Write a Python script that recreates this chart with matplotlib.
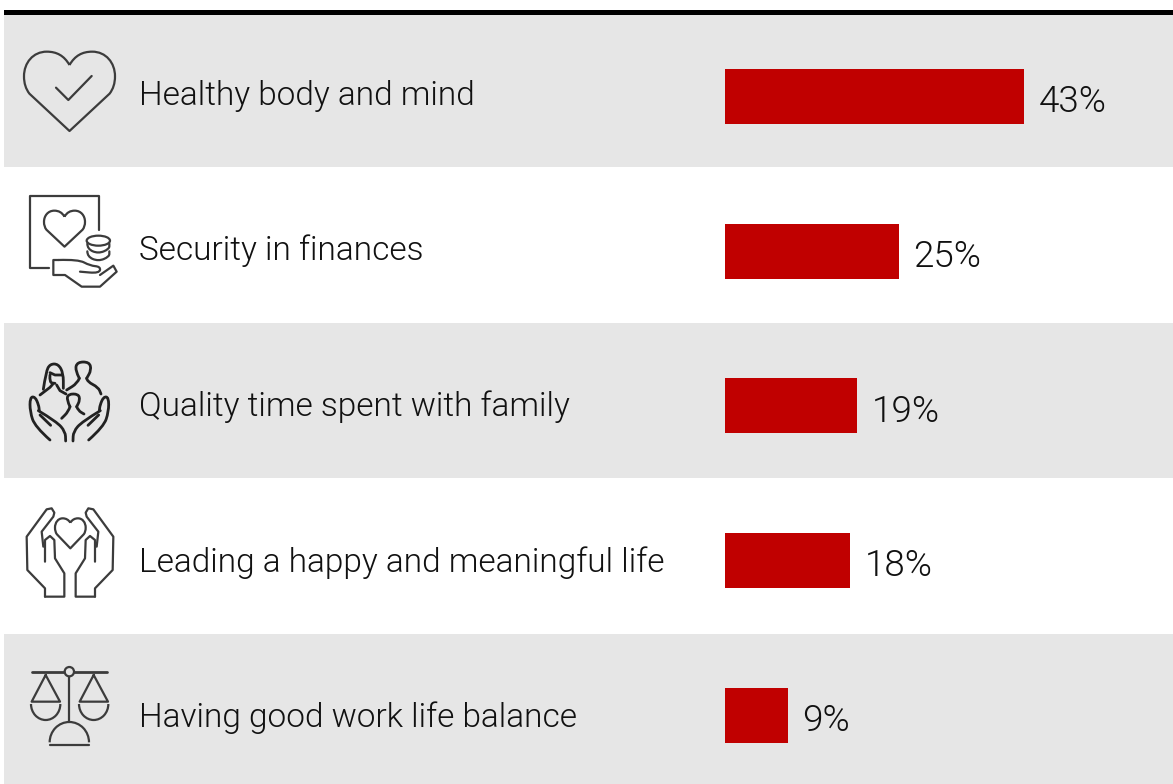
import matplotlib
matplotlib.use("Agg")
import numpy as np
import matplotlib.pyplot as plt
from matplotlib.path import Path
from matplotlib.patches import PathPatch, Rectangle, Circle, Ellipse, Arc

CATEGORIES = [
    "Healthy body and mind",
    "Security in finances",
    "Quality time spent with family",
    "Leading a happy and meaningful life",
    "Having good work life balance",
]
VALUES = [43, 25, 19, 18, 9]
VALUE_LABELS = ["43%", "25%", "19%", "18%", "9%"]

W, H = 1173, 784
RED = "#c00000"
BAND = "#e6e6e6"
ICON = "#3c3c3c"
TEXT = "#111111"
LW = 1.6

plt.rcParams["font.family"] = ["Roboto", "DejaVu Sans"]
plt.rcParams["font.weight"] = 300


def line(ax, pts, oy=0, smooth=False, lw=LW, color=ICON):
    # icon strokes are noted in 3x zoom coordinates
    pts = [(x / 3, oy + y / 3) for x, y in pts]
    if smooth and len(pts) > 2:
        verts = [pts[0]]
        codes = [Path.MOVETO]
        for a, b in zip(pts[1:-1], pts[2:]):
            verts += [a, ((a[0] + b[0]) / 2, (a[1] + b[1]) / 2)]
            codes += [Path.CURVE3, Path.CURVE3]
        verts += [pts[-1]]
        codes += [Path.LINETO]
    else:
        verts = pts
        codes = [Path.MOVETO] + [Path.LINETO] * (len(pts) - 1)
    ax.add_patch(PathPatch(Path(verts, codes), fill=False, ec=color, lw=lw,
                           capstyle="round", joinstyle="round"))


def heart(ax, x0, x1, y0, y1, notch, oy=0):
    cx = (x0 + x1) / 2
    w = x1 - x0
    h = y1 - y0
    pts = [
        (cx, notch),
        (cx - w * 0.06, y0 + h * 0.05), (cx - w * 0.14, y0), (cx - w * 0.25, y0),
        (cx - w * 0.40, y0), (x0, y0 + h * 0.14), (x0, y0 + h * 0.31),
        (x0, y0 + h * 0.40), (x0 + w * 0.02, y0 + h * 0.47), (x0 + w * 0.06, y0 + h * 0.53),
    ]
    left = [(x / 3, oy + y / 3) for x, y in pts]
    tip = (cx / 3, oy + y1 / 3)
    right = [(2 * cx / 3 - x, y) for x, y in left]
    verts = left + [tip] + right[::-1]
    codes = [Path.MOVETO] + [Path.CURVE4] * 9 + [Path.LINETO, Path.LINETO] + [Path.CURVE4] * 9
    ax.add_patch(PathPatch(Path(verts, codes), fill=False, ec=ICON, lw=LW, joinstyle="round"))


def icon_heart_check(ax):
    heart(ax, 72, 345, 155, 393, 195)
    line(ax, [(168, 263), (205, 300), (275, 228)])


def icon_finances(ax):
    line(ax, [(147, 805), (90, 805), (90, 587), (297, 587), (297, 690)])
    heart(ax, 132, 255, 632, 740, 650)
    ax.add_patch(Ellipse((295 / 3, 722 / 3), 70 / 3, 30 / 3, fill=False, ec=ICON, lw=LW))
    for y in [745, 768]:
        line(ax, [(262, y - 14), (262, y + 2), (295, y + 16), (328, y + 2), (328, y - 14)], smooth=True)
    line(ax, [(175, 780), (235, 778), (270, 797), (302, 800), (298, 820), (240, 815)], smooth=True)
    line(ax, [(175, 780), (160, 780), (160, 825), (195, 825), (245, 860), (300, 860), (350, 815),
              (340, 797), (300, 825)])


def icon_family(ax):
    oy = 340
    lw = 2.0
    c = "#222222"
    line(ax, [(130, 148), (138, 95), (150, 72), (175, 72), (190, 100), (190, 145)], oy, smooth=True, lw=lw, color=c)
    line(ax, [(150, 98), (165, 105), (186, 105)], oy, lw=lw, color=c)
    line(ax, [(150, 105), (148, 128), (165, 130)], oy, smooth=True, lw=lw, color=c)
    line(ax, [(120, 165), (150, 142), (158, 133)], oy, lw=lw, color=c)
    line(ax, [(170, 135), (180, 152), (198, 162)], oy, lw=lw, color=c)
    line(ax, [(238, 115), (225, 90), (232, 66), (268, 66), (274, 90), (260, 115)], oy, smooth=True, lw=lw, color=c)
    line(ax, [(238, 115), (232, 130), (200, 150)], oy, smooth=True, lw=lw, color=c)
    line(ax, [(260, 115), (262, 125), (295, 142), (303, 162)], oy, smooth=True, lw=lw, color=c)
    line(ax, [(210, 200), (200, 180), (205, 162), (235, 162), (240, 180), (230, 200)], oy, smooth=True, lw=lw, color=c)
    line(ax, [(210, 200), (205, 215), (185, 235)], oy, smooth=True, lw=lw, color=c)
    line(ax, [(230, 200), (235, 212), (252, 222)], oy, smooth=True, lw=lw, color=c)
    for mirror in (lambda x: x, lambda x: 416 - x):
        line(ax, [(mirror(150), 300), (mirror(105), 260), (mirror(90), 215), (mirror(90), 172),
                  (mirror(105), 170), (mirror(116), 195), (mirror(118), 212)], oy, smooth=True, lw=lw, color=c)
        line(ax, [(mirror(115), 212), (mirror(170), 245), (mirror(196), 275), (mirror(197), 303)], oy, smooth=True, lw=lw, color=c)
        line(ax, [(mirror(120), 225), (mirror(152), 256)], oy, lw=lw, color=c)


def icon_hands(ax):
    oy = 340
    heart(ax, 165, 257, 535, 625, 548, oy)
    for mirror in (lambda x: x, lambda x: 420 - x):
        line(ax, [(mirror(135), 770), (mirror(135), 745), (mirror(82), 690), (mirror(80), 590),
                  (mirror(140), 508), (mirror(155), 505), (mirror(163), 518), (mirror(160), 530),
                  (mirror(125), 575), (mirror(130), 620)], oy)
        line(ax, [(mirror(135), 770), (mirror(193), 770), (mirror(193), 700), (mirror(165), 655),
                  (mirror(163), 600), (mirror(150), 588), (mirror(135), 600), (mirror(135), 665)], oy)


def icon_scales(ax):
    oy = 620
    line(ax, [(97, 155), (193, 155)], oy, lw=2.0)
    line(ax, [(223, 155), (320, 155)], oy, lw=2.0)
    ax.add_patch(Circle((208 / 3, oy + 155 / 3), 14 / 3, fill=False, ec=ICON, lw=LW))
    line(ax, [(208, 170), (208, 305)], oy)
    line(ax, [(150, 375), (267, 375)], oy)
    ax.add_patch(Arc((208 / 3, oy + 367 / 3), 118 / 3, 122 / 3, theta1=180, theta2=360, ec=ICON, lw=LW))
    for cx in [137, 281]:
        line(ax, [(cx, 165), (cx - 42, 245), (cx + 43, 245), (cx, 165)], oy)
        ax.add_patch(Arc((cx / 3, oy + 252 / 3), 88 / 3, 96 / 3, theta1=0, theta2=180, ec=ICON, lw=LW))


fig = plt.figure(figsize=(W / 100, H / 100), dpi=100, facecolor="white")

# background layer in pixel coordinates: bands, rule, icons, labels
bg = fig.add_axes([0, 0, 1, 1])
bg.set_xlim(0, W)
bg.set_ylim(H, 0)
bg.axis("off")

for top, bottom in [(14, 167), (323, 478), (634, 784)]:
    bg.add_patch(Rectangle((4, top), W - 4, bottom - top, fc=BAND, ec="none"))
bg.add_patch(Rectangle((4, 9.5), W - 4, 5, fc="black", ec="none"))

for draw in [icon_heart_check, icon_finances, icon_family, icon_hands, icon_scales]:
    draw(bg)

label_baselines = [105, 260, 416, 572, 727]
for name, y in zip(CATEGORIES, label_baselines):
    bg.text(139, y, name, fontsize=24, color=TEXT, va="baseline", ha="left")

# bars on their own axes, 6.955 px per percentage point
PX_PER_PCT = 6.955
ROW = 154.75
ax = fig.add_axes([725 / W, 0, (W - 725) / W, 1])
ax.patch.set_alpha(0)
ax.set_xlim(0, (W - 725) / PX_PER_PCT)
ax.set_ylim((H - 96.5) / ROW, -96.5 / ROW)
ax.axis("off")
ypos = np.arange(len(VALUES))
ax.barh(ypos, VALUES, height=55 / ROW, color=RED)
for y, v, lab in zip(ypos, VALUES, VALUE_LABELS):
    ax.annotate(lab, xy=(v, y), xytext=(10.4, -11.2), textcoords="offset points",
                fontsize=26.5, color=TEXT, va="baseline", ha="left")

fig.savefig("out.png", dpi=100)
